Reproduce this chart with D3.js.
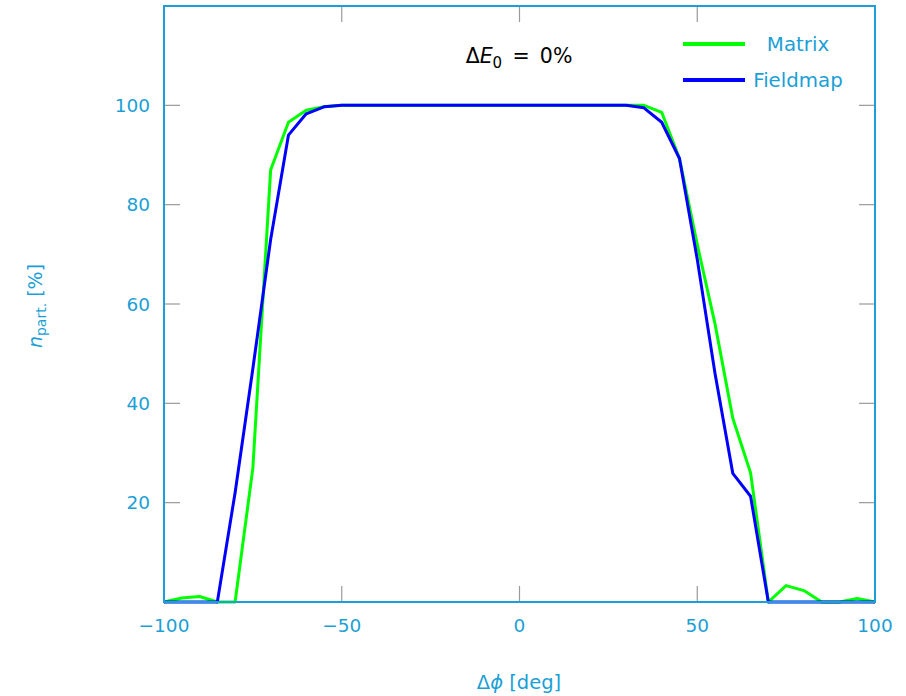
<!DOCTYPE html>
<html>
<head>
<meta charset="utf-8">
<script src="https://cdn.jsdelivr.net/npm/d3@7"></script>
<style>
  html, body { margin: 0; padding: 0; background: #fff; }
  svg text { font-family: "DejaVu Sans", sans-serif; }
</style>
</head>
<body>
<svg id="chart" width="906" height="696"></svg>
<script>
// Phase offset in degrees
const phase = [-100, -95, -90, -85, -80, -75, -70, -65, -60, -55, -50, -45, -40, -35, -30, -25, -20, -15, -10, -5,
  0, 5, 10, 15, 20, 25, 30, 35, 40, 45, 50, 55, 60, 65, 70, 75, 80, 85, 90, 95, 100];

// Transmitted particles [%], transfer-matrix model
const matrix = [0, 0.8, 1.1, 0, 0, 27, 87, 96.6, 99.0, 99.7, 100, 100, 100, 100, 100, 100, 100, 100, 100, 100,
  100, 100, 100, 100, 100, 100, 100, 100, 98.6, 89.3, 72, 56, 37, 26, 0, 3.3, 2.3, 0, 0, 0.7, 0];

// Transmitted particles [%], field-map tracking
const fieldmap = [0, 0, 0, 0, 22, 47, 73, 94, 98.3, 99.7, 100, 100, 100, 100, 100, 100, 100, 100, 100, 100,
  100, 100, 100, 100, 100, 100, 100, 99.5, 96.6, 89.3, 69, 46, 25.9, 21.3, 0, 0, 0, 0, 0, 0, 0];

const xTicks = [-100, -50, 0, 50, 100];
const yTicks = [20, 40, 60, 80, 100];

const seriesNames = ["Matrix", "Fieldmap"];
const seriesColors = ["#00ff00", "#0000ff"];

const accent = "#1b9fd6";
const tickGrey = "#9a9a9a";

const svg = d3.select("#chart");
const pLeft = 164, pRight = 875, pTop = 6, pBottom = 602;

const x = d3.scaleLinear().domain([-100, 100]).range([pLeft, pRight]);
const y = d3.scaleLinear().domain([0, 120]).range([pBottom, pTop]);

// Inward tick marks on all four sides
const tickLen = 16;
const g = svg.append("g");
xTicks.forEach(v => {
  g.append("line").attr("x1", x(v)).attr("x2", x(v)).attr("y1", pBottom).attr("y2", pBottom - tickLen)
    .attr("stroke", tickGrey).attr("stroke-width", 1.2);
  g.append("line").attr("x1", x(v)).attr("x2", x(v)).attr("y1", pTop).attr("y2", pTop + tickLen)
    .attr("stroke", tickGrey).attr("stroke-width", 1.2);
});
yTicks.forEach(v => {
  g.append("line").attr("x1", pLeft).attr("x2", pLeft + tickLen).attr("y1", y(v)).attr("y2", y(v))
    .attr("stroke", tickGrey).attr("stroke-width", 1.2);
  g.append("line").attr("x1", pRight).attr("x2", pRight - tickLen).attr("y1", y(v)).attr("y2", y(v))
    .attr("stroke", tickGrey).attr("stroke-width", 1.2);
});

// Tick labels
const fmt = v => (v < 0 ? "\u2212" + Math.abs(v) : String(v));
svg.append("g").selectAll("text").data(xTicks).join("text")
  .attr("x", x).attr("y", 632).attr("text-anchor", "middle")
  .attr("fill", accent).attr("font-size", 18.5).text(fmt);
svg.append("g").selectAll("text").data(yTicks).join("text")
  .attr("x", 150).attr("y", v => y(v) + 6.5).attr("text-anchor", "end")
  .attr("fill", accent).attr("font-size", 18.5).text(String);

// Data lines
const line = d3.line().x((d, i) => x(phase[i])).y(d => y(d));
const plot = svg.append("g");
[matrix, fieldmap].forEach((s, k) => {
  plot.append("path").datum(s).attr("d", line)
    .attr("fill", "none").attr("stroke", seriesColors[k]).attr("stroke-width", 3)
    .attr("stroke-linejoin", "round");
});

// Frame
svg.append("rect").attr("x", pLeft).attr("y", pTop).attr("width", pRight - pLeft).attr("height", pBottom - pTop)
  .attr("fill", "none").attr("stroke", accent).attr("stroke-width", 2);

// Legend
const legendY = [44, 80];
seriesNames.forEach((name, k) => {
  svg.append("line").attr("x1", 683).attr("x2", 745).attr("y1", legendY[k]).attr("y2", legendY[k])
    .attr("stroke", seriesColors[k]).attr("stroke-width", 4);
  svg.append("text").attr("x", 798).attr("y", legendY[k] + 6.5).attr("text-anchor", "middle")
    .attr("fill", accent).attr("font-size", 19.8).text(name);
});

// Annotation: energy offset
const ann = svg.append("text").attr("x", 519).attr("y", 63).attr("text-anchor", "middle")
  .attr("fill", "#000").attr("font-size", 20.5);
ann.append("tspan").text("\u0394");
ann.append("tspan").attr("font-style", "italic").text("E");
ann.append("tspan").attr("font-size", 15).attr("dy", 5).text("0");
ann.append("tspan").attr("dy", -5).text("\u2002=\u20020%");

// Axis titles
const xt = svg.append("text").attr("x", 519).attr("y", 689).attr("text-anchor", "middle")
  .attr("fill", accent).attr("font-size", 19.5);
xt.append("tspan").text("\u0394");
xt.append("tspan").attr("font-style", "italic").text("\u03d5");
xt.append("tspan").text(" [deg]");

const yt = svg.append("text").attr("transform", "translate(42,306) rotate(-90)")
  .attr("text-anchor", "middle").attr("fill", accent).attr("font-size", 19);
yt.append("tspan").attr("font-style", "italic").text("n");
yt.append("tspan").attr("font-size", 14).attr("dy", 4).text("part.");
yt.append("tspan").attr("dy", -4).text(" [%]");
</script>
</body>
</html>
